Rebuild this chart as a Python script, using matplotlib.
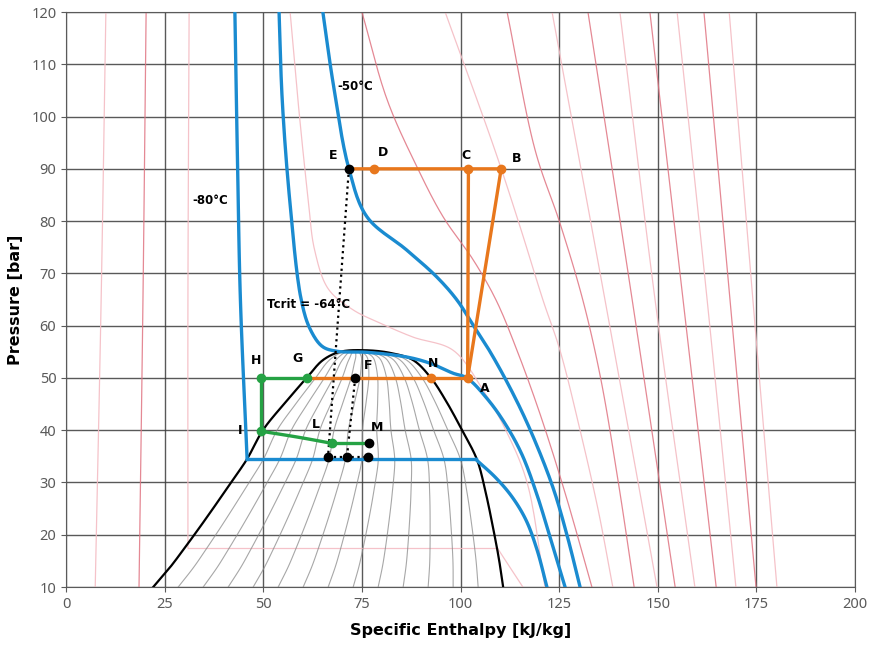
import numpy as np
import matplotlib.pyplot as plt

plt.rcParams['font.family'] = ['Noto Sans', 'DejaVu Sans']
BOLD = ['DejaVu Sans']

# saturation dome (h in kJ/kg, p in bar), liquid side up to the critical point, then vapour side
liq_h = [22.1, 26.4, 29.7, 33.1, 36.5, 42.3, 45.9, 49.9, 55.0, 61.0, 65.1, 69.5, 75.5]
liq_p = [10.0, 13.8, 17.1, 20.6, 24.2, 30.5, 34.5, 40.0, 44.8, 50.0, 53.4, 55.0, 55.3]
vap_h = [82.1, 88.0, 92.5, 96.0, 100.4, 104.2, 106.4, 108.2, 109.7, 110.8]
vap_p = [54.8, 53.4, 50.0, 46.0, 40.0, 34.3, 28.0, 21.5, 15.5, 10.0]

# blue isotherms
t80_h = [42.8, 43.5, 44.2, 45.9]
t80_p = [120, 90, 65, 34.4]
t80_flat_h = [45.9, 103.9]
t80_gas_h = [103.9, 109.0, 113.1, 116.6, 119.4, 121.9]
t80_gas_p = [34.4, 30.85, 27.2, 22.8, 17.1, 10]
t64_h = [54.0, 54.8, 56.7, 59.6, 61.9, 65.0, 68.7, 76.3, 86.4, 92.3, 98.1, 101.6,
         107.0, 111.5, 115.6, 119.4, 122.9, 126.5]
t64_p = [120, 103.2, 84, 65, 59.3, 56.0, 55.1, 54.9, 54.0, 52.8, 50.9, 50.0,
         45.8, 41.0, 35.3, 27.6, 19.0, 10]
t50_h = [65.1, 67.7, 71.7, 76.3, 86.3, 94.0, 99.1, 103.2, 107.5, 113.1, 117.9, 123.4, 127.0, 130.3]
t50_p = [120, 106.4, 90, 80.8, 74.5, 69.3, 64.9, 60.1, 55.0, 47.3, 39.65, 29.1, 19.9, 10]

# thin background isotherms: (h list, p list, dark?)
pink_lines = [
    ([10.1, 8.9, 7.4], [120, 65, 10], False),
    ([20.3, 19.5, 18.5], [120, 65, 10], True),
    ([31.2, 30.9, 30.9], [120, 65, 17.5], False),
    ([30.9, 109.3], [17.5, 17.5], False),
    ([109.3, 112.5, 115.8], [17.5, 13.8, 10], False),
    ([56.8, 58.8, 61.4, 63.0, 66.5, 72.8, 79.6, 88.0, 98.1, 105.7, 111.8, 116.9, 121.4],
     [120, 103, 84, 74.5, 67.0, 63.0, 60.5, 57.8, 55.3, 47.7, 39.5, 29.9, 10], False),
    ([75.0, 81.4, 89.0, 95.6, 103.2, 109.0, 114.3, 120.2, 126.5, 133.3],
     [120, 103.2, 90.3, 80.8, 72.6, 64.9, 55.3, 43, 28, 10], True),
    ([96.1, 108.7, 115.1, 120.9, 125.2, 130.3, 134.9, 138.6],
     [120, 93.6, 78.9, 64.9, 55.3, 40, 24.7, 10], False),
    ([111.8, 118.9, 125.2, 131.0, 135.5, 140.0, 144.0],
     [120, 93.6, 79.6, 64.9, 50, 30, 10], True),
    ([123.2, 136.6, 149.8], [120, 65, 10], False),
    ([132.3, 143.5, 154.4], [120, 65, 10], True),
    ([140.4, 149.3, 159.4], [120, 65, 10], False),
    ([148.0, 156.4, 164.8], [120, 65, 10], True),
    ([154.9, 162.5, 169.8], [120, 65, 10], False),
    ([161.7, 168.3, 174.9], [120, 65, 10], True),
    ([168.1, 174.1, 180.2], [120, 65, 10], False),
]

# cycle state points
pts = {
    'A': (101.8, 50.0), 'B': (110.3, 90.0), 'C': (102.0, 90.0), 'D': (78.0, 90.0),
    'E': (71.7, 90.0), 'F': (73.3, 50.0), 'G': (61.0, 50.0), 'H': (49.5, 50.0),
    'I': (49.5, 39.8), 'L': (67.3, 37.5), 'M': (76.8, 37.5), 'N': (92.5, 50.0),
}
low_h = [66.4, 71.2, 76.6]
low_p = 34.8
n_quality = 14

BLUE = '#1a8bd0'
ORANGE = '#e8771c'
GREEN = '#25a244'

# axis scale in pixels per unit, so the spline is parametrised on screen distance
SX, SY = 3.945, 5.227


def smooth(hs, ps, n=16):
    """Centripetal Catmull-Rom through the given points."""
    P = np.column_stack([np.asarray(hs, float) * SX, np.asarray(ps, float) * SY])
    if len(P) < 3:
        return P[:, 0] / SX, P[:, 1] / SY
    P = np.vstack([2 * P[0] - P[1], P, 2 * P[-1] - P[-2]])
    out = [P[1]]
    for i in range(1, len(P) - 2):
        p0, p1, p2, p3 = P[i - 1], P[i], P[i + 1], P[i + 2]
        t0 = 0.0
        t1 = t0 + max(np.linalg.norm(p1 - p0), 1e-6) ** 0.5
        t2 = t1 + max(np.linalg.norm(p2 - p1), 1e-6) ** 0.5
        t3 = t2 + max(np.linalg.norm(p3 - p2), 1e-6) ** 0.5
        t = np.linspace(t1, t2, n)[1:, None]
        a1 = (t1 - t) / (t1 - t0) * p0 + (t - t0) / (t1 - t0) * p1
        a2 = (t2 - t) / (t2 - t1) * p1 + (t - t1) / (t2 - t1) * p2
        a3 = (t3 - t) / (t3 - t2) * p2 + (t - t2) / (t3 - t2) * p3
        b1 = (t2 - t) / (t2 - t0) * a1 + (t - t0) / (t2 - t0) * a2
        b2 = (t3 - t) / (t3 - t1) * a2 + (t - t1) / (t3 - t1) * a3
        c = (t2 - t) / (t2 - t1) * b1 + (t - t1) / (t2 - t1) * b2
        out.extend(c)
    out = np.array(out)
    return out[:, 0] / SX, out[:, 1] / SY


fig = plt.figure(figsize=(8.7, 6.49), dpi=100)
ax = fig.add_axes([0.0759, 0.0955, 0.9069, 0.886])

for hs, ps, dark in pink_lines:
    x, y = smooth(hs, ps)
    if dark:
        ax.plot(x, y, color='#e07482', lw=0.9, alpha=0.85, zorder=2)
    else:
        ax.plot(x, y, color='#f4bcc3', lw=0.9, alpha=0.9, zorder=2)

# dome
dh, dp = smooth(liq_h + vap_h, liq_p + vap_p, n=24)
ax.plot(dh, dp, color='black', lw=1.6, zorder=4)

# constant quality lines inside the dome (lever rule between the two branches)
top = int(np.argmax(dp))
p_grid = np.linspace(10, dp[top], 120)
h_l = np.interp(p_grid, dp[:top + 1], dh[:top + 1])
h_v = np.interp(p_grid, dp[top:][::-1], dh[top:][::-1])
for k in range(1, n_quality):
    q = k / n_quality
    ax.plot(h_l + q * (h_v - h_l), p_grid, color='#8a8a8a', lw=0.8, alpha=0.75, zorder=3)

for hs, ps in [(t80_h, t80_p), (t80_gas_h, t80_gas_p), (t64_h, t64_p), (t50_h, t50_p)]:
    x, y = smooth(hs, ps)
    ax.plot(x, y, color=BLUE, lw=2.4, zorder=5)
ax.plot(t80_flat_h, [t80_p[-1]] * 2, color=BLUE, lw=2.4, zorder=5)

# dotted construction lines
dot = dict(color='black', ls=':', lw=1.6, zorder=6)
ax.plot([pts['E'][0], low_h[0]], [pts['E'][1], low_p], **dot)
ax.plot([pts['F'][0], low_h[1]], [pts['F'][1], low_p], **dot)
ax.plot([low_h[0], low_h[2]], [low_p, low_p], **dot)

# high pressure side
hp = ['E', 'D', 'C', 'B', 'A']
ax.plot([pts[k][0] for k in hp], [pts[k][1] for k in hp], color=ORANGE, lw=2.4, zorder=7)
ax.plot([pts['C'][0], pts['A'][0]], [pts['C'][1], pts['A'][1]], color=ORANGE, lw=2.4, zorder=7)
mp = ['A', 'N', 'F', 'G']
ax.plot([pts[k][0] for k in mp], [pts[k][1] for k in mp], color=ORANGE, lw=2.4, zorder=7)

# low pressure side
gx, gy = smooth([49.5, 59.3, 67.3], [39.8, 38.6, 37.5])
ax.plot([61.0, 49.5, 49.5], [50.0, 50.0, 39.8], color=GREEN, lw=2.4, zorder=7)
ax.plot(gx, gy, color=GREEN, lw=2.4, zorder=7)
ax.plot([67.3, 76.8], [37.5, 37.5], color=GREEN, lw=2.4, zorder=7)

for k in ['D', 'C', 'B', 'A', 'N']:
    ax.plot(*pts[k], 'o', color=ORANGE, ms=6, zorder=8)
for k in ['G', 'H', 'I', 'L']:
    ax.plot(*pts[k], 'o', color=GREEN, ms=6, zorder=8)
for k in ['E', 'F', 'M']:
    ax.plot(*pts[k], 'o', color='black', ms=6, zorder=8)
ax.plot(low_h, [low_p] * 3, 'o', color='black', ms=6, zorder=8)

labels = {
    'E': (67.7, 92.6), 'D': (80.4, 93.2), 'C': (101.4, 92.6), 'B': (114.3, 92.0),
    'A': (106.2, 48.0), 'N': (93.0, 52.7), 'F': (76.6, 52.3), 'G': (58.8, 53.8),
    'H': (48.2, 53.4), 'I': (44.1, 40.0), 'L': (63.4, 41.0), 'M': (78.8, 40.6),
}
for k, (x, y) in labels.items():
    ax.text(x, y, k, fontsize=9, fontweight='bold', family=BOLD,
            ha='center', va='center', zorder=9)

for txt, x, y in [('-50°C', 68.7, 105.7), ('-80°C', 32.0, 84.0), ('Tcrit = -64°C', 51.0, 64.0)]:
    ax.text(x, y, txt, fontsize=8.5, fontweight='bold', family=BOLD, va='center', zorder=9)

ax.set_xlim(0, 200)
ax.set_ylim(10, 120)
ax.set_xticks(np.arange(0, 201, 25))
ax.set_yticks(np.arange(10, 121, 10))
ax.grid(True, color='#3c3c3c', lw=1.0, alpha=0.85, zorder=1)
ax.set_axisbelow(True)
for s in ax.spines.values():
    s.set_color('#5a5a5a')
ax.tick_params(colors='#5a5a5a', labelsize=10.5, labelcolor='#5a5a5a')
ax.set_xlabel('Specific Enthalpy [kJ/kg]', fontsize=11.5, fontweight='bold', family=BOLD, labelpad=8)
ax.set_ylabel('Pressure [bar]', fontsize=11.5, fontweight='bold', family=BOLD, labelpad=6)

fig.savefig('out.png', dpi=100)
